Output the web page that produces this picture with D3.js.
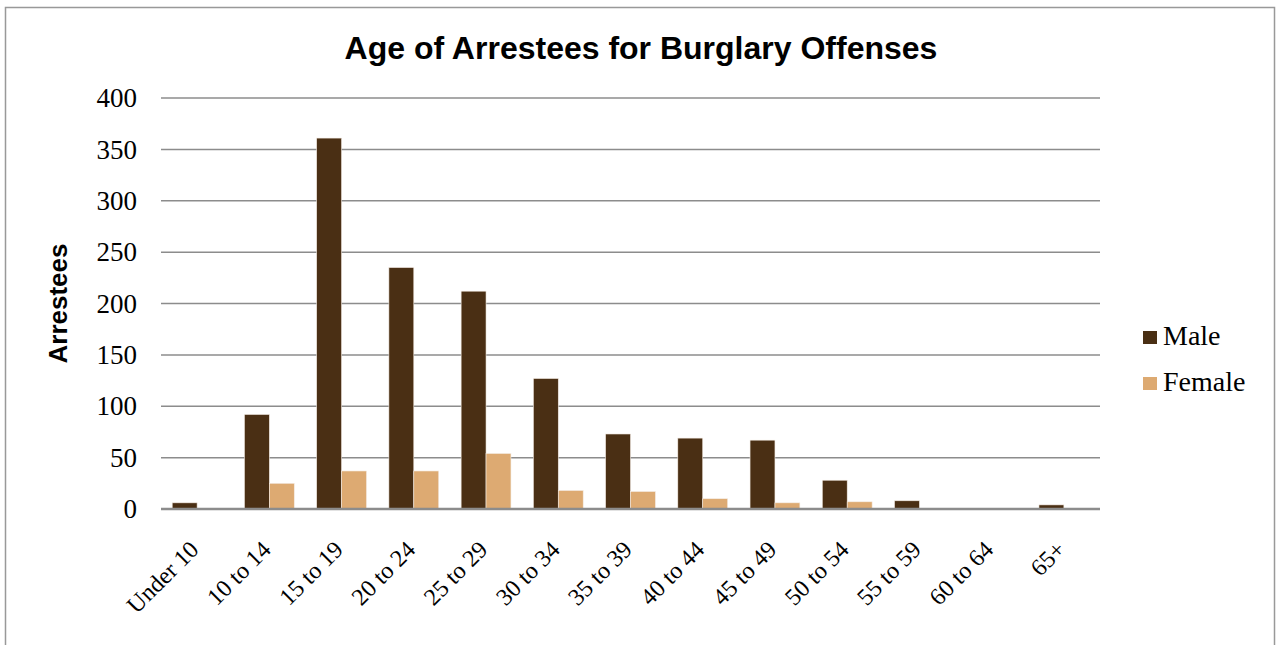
<!DOCTYPE html>
<html><head><meta charset="utf-8">
<script src="https://cdn.jsdelivr.net/npm/d3@7/dist/d3.min.js"></script>
<style>body{margin:0;background:#fff}svg{display:block}</style>
</head><body>
<svg id="c" width="1279" height="645"></svg>
<script>
const categories = ["Under 10","10 to 14","15 to 19","20 to 24","25 to 29","30 to 34","35 to 39","40 to 44","45 to 49","50 to 54","55 to 59","60 to 64","65+"];
const maleValues = [6,92,361,235,212,127,73,69,67,28,8,0,4];
const femaleValues = [0,25,37,37,54,18,17,10,6,7,0,0,0];
const seriesNames = ["Male","Female"];
const seriesColors = ["#4a2f14","#ddaa72"];
const yTicks = [0,50,100,150,200,250,300,350,400];

(function(){
const svg = d3.select("#c");
const serif = "'Liberation Serif','DejaVu Serif',serif";
const sans = "'Liberation Sans',Arial,sans-serif";

svg.append("rect").attr("x",5.5).attr("y",7.5).attr("width",1269).attr("height",660)
  .attr("fill","#fff").attr("stroke","#999").attr("stroke-width",1.5);

const pL=161, pR=1100, pT=98, pB=509;
const x = d3.scaleBand().domain(categories).range([pL,pR]).paddingInner(0.31).paddingOuter(0.155);
const xs = d3.scaleBand().domain(seriesNames).range([0,x.bandwidth()]);
const y = d3.scaleLinear().domain([0,400]).range([pB,pT]);

svg.append("g").selectAll("line").data(yTicks.filter(d=>d>0)).join("line")
  .attr("x1",pL).attr("x2",pR).attr("y1",d=>y(d)).attr("y2",d=>y(d))
  .attr("stroke","#8c8c8c").attr("stroke-width",1.5);

const yAxis = d3.axisLeft(y).tickValues(yTicks).tickSize(0).tickPadding(24);
const gy = svg.append("g").attr("transform",`translate(${pL},0)`).call(yAxis);
gy.select(".domain").remove();
gy.selectAll("text").attr("font-family",serif).attr("font-size",27).attr("fill","#000").attr("dy","0.32em");

const data = categories.map((c,i)=>({c, vals:[maleValues[i],femaleValues[i]]}));
const g = svg.append("g");
data.forEach(d=>{
  d.vals.forEach((v,j)=>{
    if(v<=0) return;
    g.append("rect").attr("x",x(d.c)+xs(seriesNames[j])).attr("width",xs.bandwidth())
      .attr("y",y(v)).attr("height",y(0)-y(v)).attr("fill",seriesColors[j])
      .attr("stroke","#f4ece4").attr("stroke-width",0.6);
  });
});

svg.append("line").attr("x1",pL).attr("x2",pR).attr("y1",y(0)).attr("y2",y(0))
  .attr("stroke","#8c8c8c").attr("stroke-width",2.5);

const xAxis = d3.axisBottom(x).tickSize(0).tickPadding(0);
const gx = svg.append("g").attr("transform",`translate(0,${pB})`).call(xAxis);
gx.select(".domain").remove();
gx.selectAll("text").attr("font-family",serif).attr("font-size",24).attr("fill","#000")
  .attr("text-anchor","end").attr("dy",0).attr("y",0)
  .attr("transform","translate(3,42) rotate(-45)");

svg.append("text").attr("x",641).attr("y",59).attr("text-anchor","middle")
  .attr("font-family",sans).attr("font-weight","bold").attr("font-size",32).text("Age of Arrestees for Burglary Offenses");
svg.append("text").attr("transform",`translate(67,${(pT+pB)/2}) rotate(-90)`).attr("text-anchor","middle")
  .attr("font-family",sans).attr("font-weight","bold").attr("font-size",26).text("Arrestees");

const lg = svg.append("g");
seriesNames.forEach((n,i)=>{
  const ly = 331 + i*46;
  lg.append("rect").attr("x",1143).attr("y",ly).attr("width",14).attr("height",13).attr("fill",seriesColors[i]);
  lg.append("text").attr("x",1163).attr("y",ly+14).attr("font-family",serif).attr("font-size",28).text(n);
});
})();
</script>
</body></html>
